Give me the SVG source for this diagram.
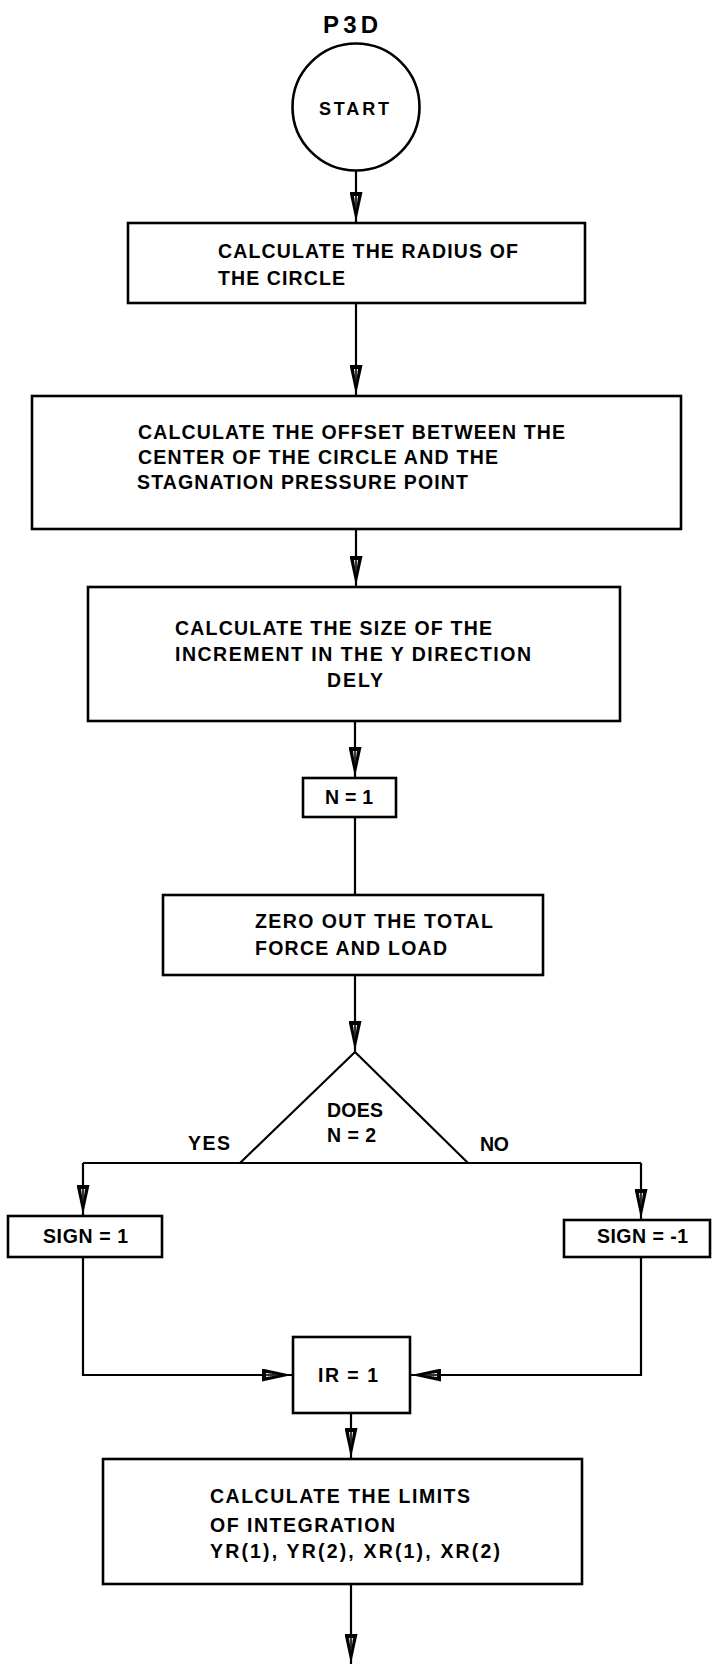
<svg xmlns="http://www.w3.org/2000/svg" width="712" height="1667" viewBox="0 0 712 1667">
  <style>
    .box { fill: #fff; stroke: #000; stroke-width: 2.6; }
    .dec { fill: none; stroke: #000; stroke-width: 2.2; stroke-linejoin: miter; }
    .flow { fill: none; stroke: #000; stroke-width: 2.2; }
    .arrow { marker-end: url(#head); }
    text { font-family: "Liberation Sans", Arial, Helvetica, sans-serif; font-weight: bold; font-size: 19.5px; fill: #000; }
    .title { font-size: 24px; }
    .start { font-size: 18px; }
  </style>
  <defs>
    <!-- narrow flowchart arrowhead with open centre -->
    <marker id="head" markerUnits="userSpaceOnUse" viewBox="0 0 30 13" refX="30" refY="6.5" markerWidth="30" markerHeight="13" orient="auto">
      <path d="M0,0 L30,6.5 L0,13 Z" fill="#000"/>
      <path d="M4,4.5 L18,6.5 L4,8.5 Z" fill="#fff"/>
      <path d="M0,6.5 L30,6.5" stroke="#000" stroke-width="1.6"/>
    </marker>
  </defs>

  <text class="title" x="323" y="33" textLength="55" lengthAdjust="spacing">P3D</text>

  <!-- connectors -->
  <g id="connectors">
    <path class="flow arrow" d="M356,171 V222"/>
    <path class="flow arrow" d="M356,303 V395"/>
    <path class="flow arrow" d="M356,529 V586"/>
    <path class="flow arrow" d="M355,721 V777"/>
    <path class="flow" d="M355,817 V894"/>
    <path class="flow arrow" d="M355,975 V1051"/>
    <path class="flow" d="M83,1163 H641"/>
    <path class="flow arrow" d="M83,1163 V1215"/>
    <path class="flow arrow" d="M641,1163 V1219"/>
    <path class="flow arrow" d="M83,1257 V1375 H292"/>
    <path class="flow arrow" d="M641,1257 V1375 H411"/>
    <path class="flow arrow" d="M351,1413 V1458"/>
    <path class="flow arrow" d="M351,1584 V1664"/>
  </g>

  <g id="start">
    <circle class="box" cx="356" cy="107" r="63.5"/>
    <text class="start" x="319" y="115" textLength="70" lengthAdjust="spacing">START</text>
  </g>

  <g id="radius">
    <rect class="box" x="128" y="223" width="457" height="80"/>
    <text x="218" y="258" textLength="300" lengthAdjust="spacing">CALCULATE THE RADIUS OF</text>
    <text x="218" y="285" textLength="127" lengthAdjust="spacing">THE CIRCLE</text>
  </g>

  <g id="offset">
    <rect class="box" x="32" y="396" width="649" height="133"/>
    <text x="138" y="439" textLength="427" lengthAdjust="spacing">CALCULATE THE OFFSET BETWEEN THE</text>
    <text x="138" y="464" textLength="360" lengthAdjust="spacing">CENTER OF THE CIRCLE AND THE</text>
    <text x="137" y="489" textLength="331" lengthAdjust="spacing">STAGNATION PRESSURE POINT</text>
  </g>

  <g id="increment">
    <rect class="box" x="88" y="587" width="532" height="134"/>
    <text x="175" y="635" textLength="317" lengthAdjust="spacing">CALCULATE THE SIZE OF THE</text>
    <text x="175" y="661" textLength="356" lengthAdjust="spacing">INCREMENT IN THE Y DIRECTION</text>
    <text x="327" y="687" textLength="56" lengthAdjust="spacing">DELY</text>
  </g>

  <g id="n-init">
    <rect class="box" x="303" y="778" width="93" height="39"/>
    <text x="325" y="804" textLength="48" lengthAdjust="spacing">N = 1</text>
  </g>

  <g id="zero-out">
    <rect class="box" x="163" y="895" width="380" height="80"/>
    <text x="255" y="928" textLength="238" lengthAdjust="spacing">ZERO OUT THE TOTAL</text>
    <text x="255" y="955" textLength="192" lengthAdjust="spacing">FORCE AND LOAD</text>
  </g>

  <g id="decision">
    <path class="dec" d="M240,1163 L355,1052 L468,1163"/>
    <text x="327" y="1117" textLength="56" lengthAdjust="spacing">DOES</text>
    <text x="327" y="1142" textLength="49" lengthAdjust="spacing">N = 2</text>
    <text x="188" y="1150" textLength="42" lengthAdjust="spacing">YES</text>
    <text x="480" y="1151" textLength="29" lengthAdjust="spacing">NO</text>
  </g>

  <g id="sign-pos">
    <rect class="box" x="8" y="1216" width="154" height="41"/>
    <text x="43" y="1243" textLength="85" lengthAdjust="spacing">SIGN = 1</text>
  </g>

  <g id="sign-neg">
    <rect class="box" x="564" y="1220" width="146" height="37"/>
    <text x="597" y="1243" textLength="91" lengthAdjust="spacing">SIGN = -1</text>
  </g>

  <g id="ir-init">
    <rect class="box" x="293" y="1337" width="117" height="76"/>
    <text x="318" y="1382" textLength="60" lengthAdjust="spacing">IR = 1</text>
  </g>

  <g id="limits">
    <rect class="box" x="103" y="1459" width="479" height="125"/>
    <text x="210" y="1503" textLength="260" lengthAdjust="spacing">CALCULATE THE LIMITS</text>
    <text x="210" y="1532" textLength="185" lengthAdjust="spacing">OF INTEGRATION</text>
    <text x="210" y="1558" textLength="290" lengthAdjust="spacing">YR(1), YR(2), XR(1), XR(2)</text>
  </g>
</svg>
